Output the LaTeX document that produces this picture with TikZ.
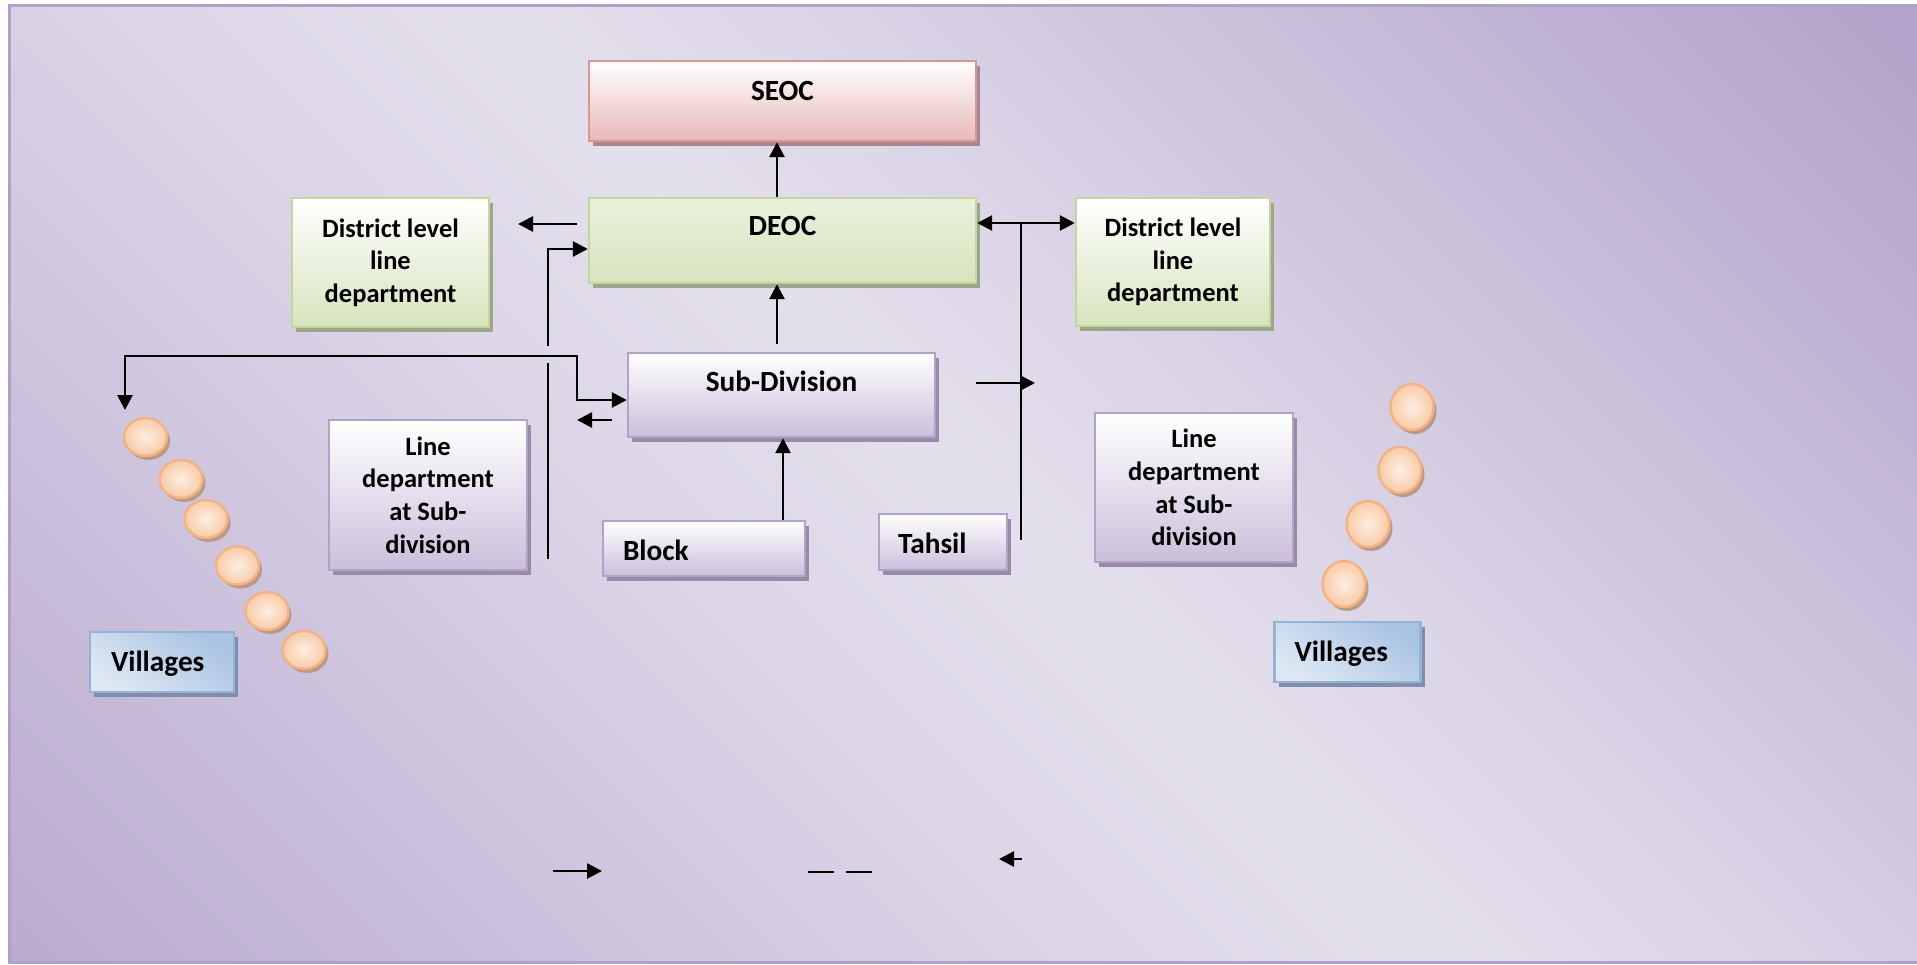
\documentclass[tikz,border=0pt]{standalone}
\usepackage{fontspec}
\setmainfont{Carlito}
\usetikzlibrary{arrows.meta,shapes.geometric,shadows,calc}

% backdrop tones, from the lower-left corner through the light diagonal to the upper-right corner
\definecolor{bgA}{HTML}{BAACCF}
\definecolor{bgB}{HTML}{C5B9D7}
\definecolor{bgC}{HTML}{D1C8E0}
\definecolor{bgD}{HTML}{DCD6E7}
\definecolor{bgE}{HTML}{E4DFEC}
\definecolor{bgF}{HTML}{DAD3E6}
\definecolor{bgG}{HTML}{CCC2DB}
\definecolor{bgH}{HTML}{BEB1D3}
\definecolor{bgI}{HTML}{B1A3C9}
\definecolor{bgline}{HTML}{B1A1C9}

\definecolor{pinkline}{HTML}{D99694}
\definecolor{pinkfill}{HTML}{E6B9B8}
\definecolor{pinkshadow}{HTML}{A5878F}
\definecolor{greenline}{HTML}{C3D69B}
\definecolor{greenfill}{HTML}{D7E4BD}
\definecolor{greentop}{HTML}{EAF1DD}
\definecolor{greenmid}{HTML}{F1F5E8}
\definecolor{greenshadow}{HTML}{9DA58D}
\definecolor{lavline}{HTML}{B3A2C7}
\definecolor{lavfill}{HTML}{CBBFDB}
\definecolor{lavshadow}{HTML}{978BA8}
\definecolor{blueline}{HTML}{95B3D7}
\definecolor{bluedark}{HTML}{A9C3E3}
\definecolor{bluelight}{HTML}{DEE8F3}
\definecolor{blueshadow}{HTML}{7F8FAB}
\definecolor{dotline}{HTML}{F4B183}
\definecolor{dotin}{HTML}{FDEEE3}
\definecolor{dotout}{HTML}{F9CBA6}
\definecolor{dotshadow}{HTML}{B99A87}

\pgfdeclareverticalshading{backdrop}{100bp}{%
  color(0bp)=(bgA); color(14.64bp)=(bgA); color(23.48bp)=(bgB);
  color(32.32bp)=(bgC); color(41.16bp)=(bgD); color(50bp)=(bgE);
  color(58.84bp)=(bgF); color(67.68bp)=(bgG); color(76.52bp)=(bgH);
  color(85.36bp)=(bgI); color(100bp)=(bgI)}

\begin{document}
\begin{tikzpicture}[
  x=0.5pt, y=-0.5pt,
  boxbase/.style={rectangle, line width=1.2pt, inner sep=0pt},
  pinkbox/.style={boxbase, draw=pinkline, top color=white, bottom color=pinkfill,
    drop shadow={shadow xshift=2pt, shadow yshift=-2.5pt, fill=pinkshadow, opacity=1}},
  deocbox/.style={boxbase, draw=greenline, top color=greentop, middle color=greenmid, bottom color=greenfill,
    drop shadow={shadow xshift=2pt, shadow yshift=-2.5pt, fill=greenshadow, opacity=1}},
  greenbox/.style={boxbase, draw=greenline, top color=white, bottom color=greenfill,
    drop shadow={shadow xshift=2pt, shadow yshift=-2.5pt, fill=greenshadow, opacity=1}},
  lavbox/.style={boxbase, draw=lavline, top color=white, bottom color=lavfill,
    drop shadow={shadow xshift=2pt, shadow yshift=-2.5pt, fill=lavshadow, opacity=1}},
  bluebox/.style={boxbase, draw=blueline, top color=bluedark, bottom color=bluelight, shading angle=-35,
    drop shadow={shadow xshift=2pt, shadow yshift=-2.5pt, fill=blueshadow, opacity=1}},
  smalltxt/.style={font=\fontsize{13.25pt}{16.3pt}\selectfont\bfseries, align=center},
  bigtxt/.style={font=\fontsize{14.65pt}{17pt}\selectfont\bfseries},
  lefttxt/.style={bigtxt, align=left, inner xsep=10pt, text height=9.3pt, text depth=0pt},
  dot/.style={ellipse, draw=dotline, line width=1.2pt, shading=radial, inner color=dotin, outer color=dotout,
    drop shadow={shadow xshift=1.5pt, shadow yshift=-2pt, fill=dotshadow, opacity=1}},
  link/.style={line width=1.35pt, black},
  arr/.style={link, -{Triangle[length=7.5pt,width=7.5pt]}},
  arr2/.style={link, {Triangle[length=7.5pt,width=7.5pt]}-{Triangle[length=7.5pt,width=7.5pt]}}
]
\useasboundingbox (0,0) rectangle (1917,964);
\fill[white] (0,0) rectangle (1917,964);

% backdrop panel
\shade[shading=backdrop, shading angle=-45] (9,5) rectangle (1925,962);
\draw[bgline, line width=1.5pt] (1925,5) -- (9,5) -- (9,962) -- (1925,962);

% boxes
\node[pinkbox, bigtxt, minimum width=193.5pt, minimum height=40pt, text height=9.3pt, text depth=10pt]
  (seoc) at (782.5,101) {SEOC};
\node[deocbox, bigtxt, minimum width=193.5pt, minimum height=42.5pt, text height=9.3pt, text depth=14pt]
  (deoc) at (782.5,240.5) {DEOC};
\node[greenbox, smalltxt, minimum width=98.5pt, minimum height=64.5pt]
  (distL) at (390.5,262.5) {District level\\line\\department};
\node[greenbox, smalltxt, minimum width=97pt, minimum height=64pt]
  (distR) at (1173,262) {District level\\line\\department};
\node[lavbox, bigtxt, minimum width=153.5pt, minimum height=42pt, text height=9.3pt, text depth=12.5pt]
  (sub) at (781.5,395) {Sub-Division};
\node[lavbox, smalltxt, minimum width=99pt, minimum height=75pt]
  (lineL) at (428,495) {Line\\department\\at Sub-\\division};
\node[lavbox, smalltxt, minimum width=99pt, minimum height=74.5pt]
  (lineR) at (1194,487.5) {Line\\department\\at Sub-\\division};
\node[lavbox, lefttxt, text height=11.8pt, text width=81pt, minimum width=101pt, minimum height=27.5pt]
  (block) at (704,548.5) {Block};
\node[lavbox, lefttxt, text height=11.8pt, inner xsep=9.5pt, text width=45pt, minimum width=64pt, minimum height=28pt]
  (tahsil) at (943,542) {Tahsil};
\node[bluebox, lefttxt, inner xsep=10.5pt, text width=51pt, minimum width=72pt, minimum height=30pt]
  (vilL) at (162,662) {Villages};
\node[bluebox, lefttxt, text width=53pt, minimum width=73pt, minimum height=30pt]
  (vilR) at (1347.5,652) {Villages};

% village dots, left chain
\node[dot, minimum width=21.5pt, minimum height=19pt] (vl1) at (145.5,437) {};
\node[dot, minimum width=21.5pt, minimum height=19pt] (vl2) at (181,479) {};
\node[dot, minimum width=21.5pt, minimum height=19pt] (vl3) at (206,519) {};
\node[dot, minimum width=21.5pt, minimum height=19pt] (vl4) at (237.5,565.5) {};
\node[dot, minimum width=21.5pt, minimum height=19pt] (vl5) at (267,611) {};
\node[dot, minimum width=21.5pt, minimum height=19pt] (vl6) at (304,650) {};
% village dots, right chain
\node[dot, minimum width=21.5pt, minimum height=23pt] (vr1) at (1412,407) {};
\node[dot, minimum width=21.5pt, minimum height=23pt] (vr2) at (1400,470) {};
\node[dot, minimum width=21.5pt, minimum height=23pt] (vr3) at (1368,524) {};
\node[dot, minimum width=21.5pt, minimum height=23pt] (vr4) at (1344,584) {};

% free ends of the connectors
\coordinate (dlA) at (577,224);
\coordinate (dlB) at (518,224);
\coordinate (riseA) at (548,346);
\coordinate (riseB) at (548,363);
\coordinate (riseC) at (548,559);
\coordinate (vtip) at (125,410);
\coordinate (bend) at (577,356);
\coordinate (backA) at (612,420);
\coordinate (backB) at (577,420);
\coordinate (trunkA) at (1021,223);
\coordinate (trunkB) at (1021,540);
\coordinate (sideA) at (976,383);
\coordinate (sideB) at (1035,383);
\coordinate (keyA) at (553,871);
\coordinate (keyB) at (602,871);
\coordinate (dashA) at (808,872);
\coordinate (dashB) at (834,872);
\coordinate (dashC) at (846,872);
\coordinate (dashD) at (872,872);
\coordinate (keyC) at (1022,859);
\coordinate (keyD) at (999,859);

% connectors
\draw[arr] ([xshift=-2.75pt]deoc.north) -- ([xshift=-2.75pt]seoc.south);
\draw[arr] (dlA) -- (dlB);
\draw[arr] (riseA) |- ([yshift=-4.25pt]deoc.west);
\draw[link] (riseB) -- (riseC);
\draw[arr2] (vtip) |- (bend) |- ([yshift=-2.5pt]sub.west);
\draw[arr] (backA) -- (backB);
\draw[arr] ([xshift=-2.25pt,yshift=4pt]sub.north) -- ([xshift=-2.75pt]deoc.south);
\draw[arr] ([xshift=39.5pt]block.north) -- ([xshift=0.75pt]sub.south);
\draw[arr2] ([yshift=8.75pt]deoc.east) -- ([yshift=19.5pt]distR.west);
\draw[link] (trunkA) -- (trunkB);
\draw[arr] (sideA) -- (sideB);

% marks along the bottom
\draw[arr] (keyA) -- (keyB);
\draw[link] (dashA) -- (dashB);
\draw[link] (dashC) -- (dashD);
\draw[arr] (keyC) -- (keyD);
\end{tikzpicture}
\end{document}
